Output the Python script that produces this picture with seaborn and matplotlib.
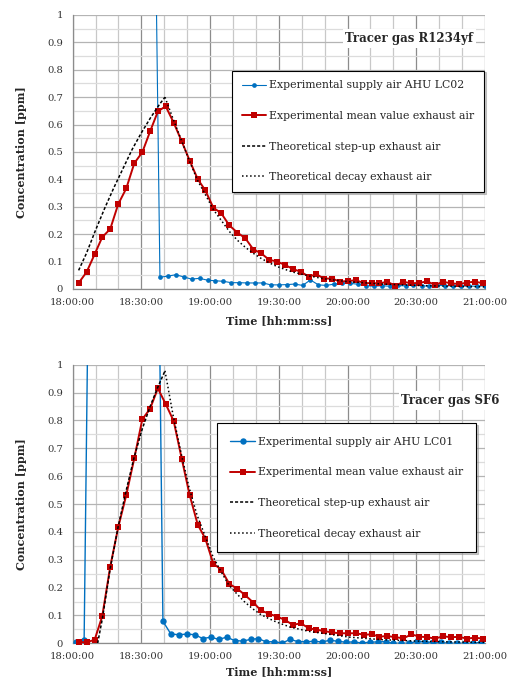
import matplotlib
matplotlib.use("Agg")
import matplotlib.pyplot as plt
from matplotlib.ticker import MultipleLocator
import seaborn as sns

# all times in minutes after 18:00:00
t_exhaust = [2.6, 6.1, 9.6, 12.9, 16.4, 19.9, 23.4, 26.9, 30.4, 33.8, 37.2, 40.6,
             44.1, 47.6, 51.1, 54.6, 57.9, 61.4, 64.9, 68.4, 71.9, 75.4, 78.9, 82.2,
             85.7, 89.2, 92.7, 96.1, 99.6, 103.1, 106.4, 109.7, 113.2, 116.7, 120.1,
             123.6, 127.1, 130.6, 133.9, 137.4, 140.9, 144.4, 147.9, 151.4, 154.7,
             158.2, 161.7, 165.2, 168.6, 172.1, 175.6, 179.0]

r1234yf_exhaust = [0.022, 0.062, 0.127, 0.189, 0.219, 0.310, 0.367, 0.459, 0.499, 0.575,
                   0.648, 0.667, 0.607, 0.539, 0.468, 0.401, 0.360, 0.297, 0.276, 0.232,
                   0.206, 0.185, 0.144, 0.131, 0.107, 0.100, 0.088, 0.073, 0.063, 0.045,
                   0.054, 0.038, 0.038, 0.027, 0.029, 0.032, 0.022, 0.021, 0.021, 0.026,
                   0.012, 0.026, 0.021, 0.022, 0.028, 0.015, 0.026, 0.021, 0.018, 0.023,
                   0.027, 0.021]

sf6_exhaust = [0.005, 0.003, 0.013, 0.097, 0.275, 0.417, 0.532, 0.664, 0.804, 0.842,
               0.915, 0.859, 0.798, 0.663, 0.531, 0.426, 0.376, 0.286, 0.264, 0.213,
               0.196, 0.172, 0.146, 0.118, 0.106, 0.096, 0.084, 0.066, 0.072, 0.054,
               0.049, 0.044, 0.039, 0.036, 0.036, 0.036, 0.031, 0.032, 0.024, 0.026,
               0.022, 0.018, 0.032, 0.024, 0.022, 0.017, 0.025, 0.022, 0.023, 0.017,
               0.020, 0.017]

# supply air: values above 1 ppm during dosing are off the scale
t_supply_r1234yf = [27.6, 31.1, 34.6, 38.1, 41.6, 45.0, 48.5, 51.9, 55.4, 58.9, 62.3,
                    65.8, 69.2, 72.7, 76.2, 79.6, 83.1, 86.5, 90.0, 93.5, 96.9, 100.4,
                    103.8, 107.3, 110.8, 114.2, 117.7, 121.1, 124.6, 128.1, 131.5,
                    135.0, 138.4, 141.9, 145.4, 148.8, 152.3, 155.7, 159.2, 162.7,
                    166.1, 169.6, 173.0, 176.5, 180.0]
r1234yf_supply = [2.3, 2.3, 2.3, 0.043, 0.047, 0.052, 0.044, 0.036, 0.039, 0.032, 0.030,
                  0.028, 0.023, 0.023, 0.022, 0.022, 0.022, 0.015, 0.015, 0.016, 0.018,
                  0.013, 0.033, 0.015, 0.013, 0.018, 0.021, 0.021, 0.017, 0.012, 0.010,
                  0.012, 0.010, 0.013, 0.011, 0.015, 0.012, 0.010, 0.014, 0.011, 0.012,
                  0.010, 0.011, 0.010, 0.012]

t_supply_sf6 = [1.5, 5.0, 8.4, 36.0, 39.4, 42.9, 46.4, 49.9, 53.3, 56.8, 60.3, 63.8,
                67.2, 70.7, 74.2, 77.7, 81.0, 84.5, 88.0, 91.5, 94.9, 98.4, 101.9,
                105.4, 108.9, 112.4, 115.9, 119.2, 122.7, 126.2, 129.7, 133.2, 136.7,
                140.0, 143.5, 147.0, 150.3, 153.8, 157.3, 160.8, 164.3, 167.8, 171.3,
                174.8, 178.3]
sf6_supply = [0.003, 0.012, 2.4, 2.5, 0.079, 0.033, 0.031, 0.033, 0.031, 0.017, 0.022,
              0.014, 0.022, 0.010, 0.008, 0.014, 0.017, 0.005, 0.006, 0.001, 0.014,
              0.006, 0.006, 0.007, 0.005, 0.011, 0.007, 0.004, 0.005, 0.001, 0.004,
              0.005, 0.006, 0.000, 0.000, 0.000, 0.007, 0.004, 0.004, 0.003, 0.000,
              0.000, 0.000, 0.000, 0.004]

t_stepup_r1234yf = [2.6, 6.0, 10.0, 14.0, 18.0, 22.0, 26.0, 30.0, 34.0, 38.0, 40.3]
r1234yf_stepup = [0.068, 0.130, 0.215, 0.295, 0.370, 0.440, 0.510, 0.570, 0.625, 0.675, 0.700]

t_decay_r1234yf = [40.3, 44.1, 47.6, 51.1, 54.6, 57.9, 61.4, 64.9, 68.4, 71.9, 75.4, 78.9,
                   82.2, 85.7, 89.2, 96.0, 103.0, 110.0, 120.0, 135.0, 150.0, 165.0, 180.0]
r1234yf_decay = [0.700, 0.615, 0.540, 0.465, 0.395, 0.345, 0.290, 0.250, 0.210, 0.178,
                 0.152, 0.130, 0.112, 0.096, 0.082, 0.062, 0.048, 0.037, 0.027, 0.018,
                 0.013, 0.010, 0.008]

t_stepup_sf6 = [10.9, 13.0, 16.4, 19.9, 23.4, 26.9, 30.4, 33.8, 37.2, 40.3]
sf6_stepup = [0.0, 0.090, 0.270, 0.420, 0.550, 0.670, 0.770, 0.850, 0.920, 0.978]

t_decay_sf6 = [40.3, 43.8, 47.4, 50.8, 54.3, 57.6, 61.3, 64.6, 68.1, 71.4, 74.9, 78.4,
               81.8, 85.3, 88.8, 95.0, 103.7, 112.4, 121.0, 135.0, 150.0, 165.0, 180.0]
sf6_decay = [0.978, 0.820, 0.680, 0.560, 0.460, 0.390, 0.310, 0.260, 0.210, 0.180, 0.150,
             0.125, 0.105, 0.090, 0.077, 0.058, 0.042, 0.032, 0.022, 0.013, 0.008, 0.005,
             0.003]

tick_minutes = [0, 30, 60, 90, 120, 150, 180]
tick_labels = ["18:00:00", "18:30:00", "19:00:00", "19:30:00",
               "20:00:00", "20:30:00", "21:00:00"]
y_ticks = [0, 0.1, 0.2, 0.3, 0.4, 0.5, 0.6, 0.7, 0.8, 0.9, 1]
y_labels = ["0", "0.1", "0.2", "0.3", "0.4", "0.5", "0.6", "0.7", "0.8", "0.9", "1"]

BLUE = "#0070C0"
RED = "#C00000"

sns.set_style("white")
plt.rcParams["font.family"] = ["DejaVu Serif"]


def draw_panel(ax, ahu, t_sup, sup, exh, t_up, up, t_dec, dec, blue_ms, blue_lw):
    sns.lineplot(x=t_sup, y=sup, ax=ax, color=BLUE, lw=blue_lw, marker="o",
                 markersize=blue_ms, markeredgecolor=BLUE, markeredgewidth=0,
                 errorbar=None, label="Experimental supply air " + ahu, zorder=3)
    sns.lineplot(x=t_exhaust, y=exh, ax=ax, color=RED, lw=1.4, marker="s",
                 markersize=5, markeredgecolor=RED, markeredgewidth=0,
                 errorbar=None, clip_on=False, zorder=4,
                 label="Experimental mean value exhaust air")
    sns.lineplot(x=t_up, y=up, ax=ax, color="black", lw=1.1,
                 linestyle=(0, (2.0, 1.3)), errorbar=None, zorder=5,
                 label="Theoretical step-up exhaust air")
    sns.lineplot(x=t_dec, y=dec, ax=ax, color="black", lw=1.1, linestyle=":",
                 errorbar=None, zorder=6, label="Theoretical decay exhaust air")

    ax.set_xlim(0, 180)
    ax.set_ylim(0, 1)
    ax.set_xticks(tick_minutes)
    ax.set_xticklabels(tick_labels)
    ax.xaxis.set_minor_locator(MultipleLocator(10))
    ax.set_yticks(y_ticks)
    ax.set_yticklabels(y_labels)
    ax.yaxis.set_minor_locator(MultipleLocator(0.05))

    ax.set_axisbelow(True)
    ax.xaxis.grid(True, which="major", color="#8c8c8c", lw=0.9)
    ax.xaxis.grid(True, which="minor", color="#c8c8c8", lw=0.9)
    ax.yaxis.grid(True, which="major", color="#b4b4b4", lw=0.9)
    ax.yaxis.grid(True, which="minor", color="#dcdcdc", lw=0.9)

    for side in ["top", "right"]:
        ax.spines[side].set_visible(False)
    for side in ["left", "bottom"]:
        ax.spines[side].set_color("#8c8c8c")
        ax.spines[side].set_linewidth(0.9)

    ax.tick_params(axis="x", which="both", direction="out", length=3,
                   color="#8c8c8c", labelsize=7.2, labelcolor="#333333", pad=3.5)
    ax.tick_params(axis="y", which="major", direction="out", length=3,
                   color="#8c8c8c", labelsize=7.2, labelcolor="#333333", pad=4)
    ax.tick_params(axis="y", which="minor", length=0)

    ax.set_xlabel("Time [hh:mm:ss]", fontsize=8, fontweight="bold")
    ax.set_ylabel("Concentration [ppm]", fontsize=8, fontweight="bold")
    ax.yaxis.set_label_coords(-0.11, 0.5)


fig = plt.figure(figsize=(5.1, 6.84), dpi=100)
ax1 = fig.add_axes([0.1425, 0.5775, 0.8084, 0.4006])
ax2 = fig.add_axes([0.1425, 0.0595, 0.8084, 0.4073])

draw_panel(ax1, "AHU LC02", t_supply_r1234yf, r1234yf_supply, r1234yf_exhaust,
           t_stepup_r1234yf, r1234yf_stepup, t_decay_r1234yf, r1234yf_decay, 3.4, 0.8)
draw_panel(ax2, "AHU LC01", t_supply_sf6, sf6_supply, sf6_exhaust,
           t_stepup_sf6, sf6_stepup, t_decay_sf6, sf6_decay, 4.6, 1.0)

ax1.xaxis.set_label_coords(0.5, -0.095)
ax2.xaxis.set_label_coords(0.5, -0.083)

for ax, anchor, bpad in [(ax1, (0.386, 0.797), 0.9), (ax2, (0.349, 0.790), 1.25)]:
    leg = ax.legend(loc="upper left", bbox_to_anchor=anchor, borderaxespad=0,
                    fontsize=7.8, labelspacing=1.9, handlelength=2.3,
                    handletextpad=0.25, borderpad=bpad, fancybox=False,
                    framealpha=1, edgecolor="black",
                    shadow={"ox": 1.3, "oy": -1.3, "color": "0.55", "alpha": 0.45})
    leg.get_frame().set_linewidth(0.8)
    leg.set_zorder(10)

box = dict(facecolor="white", edgecolor="none", pad=2)
ax1.text(0.972, 0.915, "Tracer gas R1234yf", transform=ax1.transAxes, ha="right",
         va="center", fontsize=8.5, fontweight="bold", bbox=box, zorder=9)
fig.text(0.98, 0.414, "Tracer gas SF6", ha="right", va="center", fontsize=8.5,
         fontweight="bold", bbox=box, zorder=9)

fig.savefig("out.png", dpi=100, facecolor="white")
